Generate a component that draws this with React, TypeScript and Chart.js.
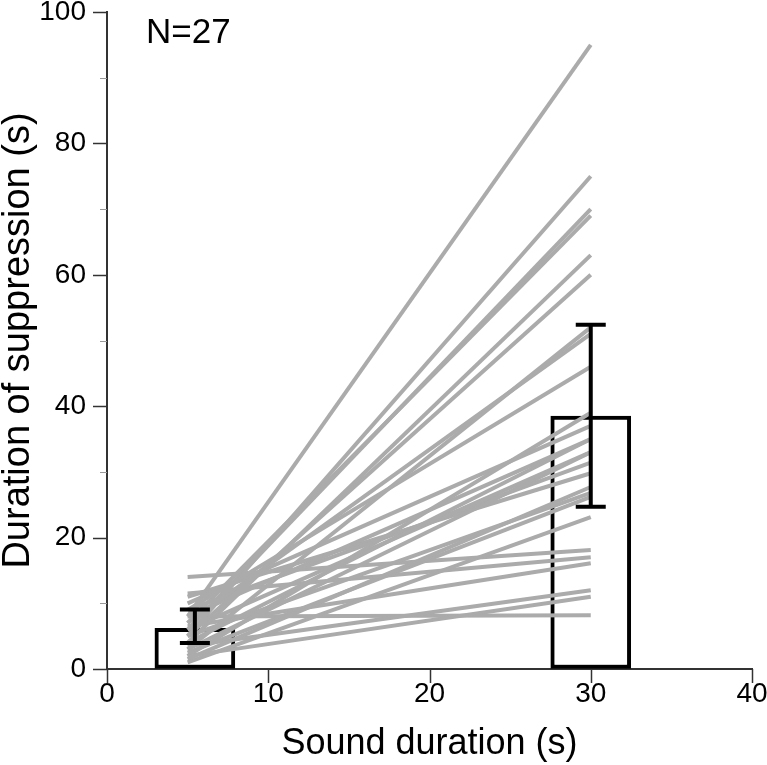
import React, { useEffect, useRef } from 'react';
import { Chart, registerables } from 'chart.js';

Chart.register(...registerables);

// ---- data ----
const SOUND_DURATIONS = [5, 30];
// suppression duration (s) for each of the 27 subjects at 5 s and 30 s
const SUPPRESSION_5S = [8, 5, 6, 7, 4, 5, 3, 7, 9, 2, 10, 4, 8, 6, 3, 9, 11, 1.5, 5, 2.5, 1, 14, 11.5, 6.5, 3.5, 2, 8];
const SUPPRESSION_30S = [95, 75, 70, 69, 63, 60, 52, 51, 46, 39, 37, 35, 35, 33, 33, 31.4, 29.8, 27.7, 26.8, 26.2, 23.1, 18.1, 17, 16.1, 12, 11, 8.2];
const BAR_X = [5.45, 30];
const BAR_MEAN = [6.2, 38.5];
const ERR_LOW = [3.96, 24.7];
const ERR_HIGH = [9.06, 52.4];
const X_TICKS = [0, 10, 20, 30, 40];
const Y_TICKS = [0, 20, 40, 60, 80, 100];
const Y_MINOR = [10, 30, 50, 70, 90];
const N_LABEL = 'N=27';
const X_TITLE = 'Sound duration (s)';
const Y_TITLE = 'Duration of suppression (s)';

const FONT = '"Liberation Sans", Arial, Helvetica, sans-serif';
const CAP_HALF = 0.93;

export default function App() {
  const ref = useRef<HTMLCanvasElement>(null);

  useEffect(() => {
    if (!ref.current) return;

    const subjectSets = SUPPRESSION_5S.map((s, i) => ({
      type: 'line' as const,
      data: [
        { x: SOUND_DURATIONS[0], y: s },
        { x: SOUND_DURATIONS[1], y: SUPPRESSION_30S[i] },
      ],
      borderColor: '#ababab',
      borderWidth: 4,
      borderCapStyle: 'butt',
      pointRadius: 0,
      fill: false,
      order: 1,
    }));

    const errSets = BAR_X.map((x, i) => ({
      type: 'line' as const,
      data: [
        { x, y: ERR_LOW[i] },
        { x, y: ERR_HIGH[i] },
        { x, y: null },
        { x: x - CAP_HALF, y: ERR_HIGH[i] },
        { x: x + CAP_HALF, y: ERR_HIGH[i] },
        { x, y: null },
        { x: x - CAP_HALF, y: ERR_LOW[i] },
        { x: x + CAP_HALF, y: ERR_LOW[i] },
      ],
      borderColor: '#000',
      borderWidth: 4,
      borderCapStyle: 'butt',
      pointRadius: 0,
      spanGaps: false,
      fill: false,
      order: 0,
    }));

    const barSet = {
      type: 'bar' as const,
      data: BAR_X.map((x, i) => ({ x, y: BAR_MEAN[i] })),
      backgroundColor: '#ffffff',
      borderColor: '#000',
      borderWidth: 4,
      borderSkipped: false,
      barThickness: 80,
      order: 2,
    };

    const tickPlugin = {
      id: 'customTicks',
      afterDraw(chart: any) {
        const { ctx } = chart;
        const xs = chart.scales.x;
        const ys = chart.scales.y;
        const ax = chart.chartArea.left;
        const ay = chart.chartArea.bottom;
        ctx.save();
        ctx.lineWidth = 1.5;
        ctx.strokeStyle = '#333';
        Y_TICKS.forEach((v) => {
          const py = Math.round(ys.getPixelForValue(v)) + 0.5;
          ctx.beginPath();
          ctx.moveTo(ax - 14, py);
          ctx.lineTo(ax, py);
          ctx.stroke();
        });
        X_TICKS.forEach((v) => {
          const px = Math.round(xs.getPixelForValue(v)) + 0.5;
          ctx.beginPath();
          ctx.moveTo(px, ay);
          ctx.lineTo(px, ay + 14);
          ctx.stroke();
        });
        ctx.strokeStyle = '#999';
        ctx.lineWidth = 1;
        Y_MINOR.forEach((v) => {
          const py = Math.round(ys.getPixelForValue(v)) + 0.5;
          ctx.beginPath();
          ctx.moveTo(ax - 7, py);
          ctx.lineTo(ax, py);
          ctx.stroke();
        });
        ctx.fillStyle = '#000';
        ctx.font = `35px ${FONT}`;
        ctx.textAlign = 'left';
        ctx.textBaseline = 'alphabetic';
        ctx.fillText(N_LABEL, 146, 43);
        ctx.restore();
      },
    };

    const chart = new Chart(ref.current, {
      type: 'line',
      data: { datasets: [...errSets, ...subjectSets, barSet] as any },
      options: {
        animation: false,
        responsive: false,
        devicePixelRatio: 1,
        events: [],
        layout: { padding: { top: 12, right: 15, left: 0, bottom: 0 } },
        plugins: { legend: { display: false }, tooltip: { enabled: false } },
        scales: {
          x: {
            type: 'linear',
            min: 0,
            max: 40,
            offset: false,
            afterFit(scale: any) {
              scale.height = 96;
              scale.paddingLeft = 0;
              scale.paddingRight = 0;
            },
            afterBuildTicks(scale: any) {
              scale.ticks = X_TICKS.map((v) => ({ value: v }));
            },
            grid: { display: true, drawOnChartArea: false, drawTicks: true, tickLength: 7, tickColor: 'rgba(0,0,0,0)' },
            border: { display: true, color: '#333', width: 2 },
            ticks: {
              color: '#000',
              font: { family: FONT, size: 28, lineHeight: 1.0 },
              padding: 4,
              maxRotation: 0,
              autoSkip: false,
            },
            title: {
              display: true,
              text: X_TITLE,
              color: '#000',
              font: { family: FONT, size: 36, lineHeight: 1.0 },
              padding: { top: 0, bottom: 3 },
            },
          },
          y: {
            type: 'linear',
            min: 0,
            max: 100,
            afterFit(scale: any) {
              scale.width = 107;
              scale.paddingTop = 0;
              scale.paddingBottom = 0;
            },
            afterBuildTicks(scale: any) {
              scale.ticks = Y_TICKS.map((v) => ({ value: v }));
            },
            grid: { display: true, drawOnChartArea: false, drawTicks: true, tickLength: 14, tickColor: 'rgba(0,0,0,0)' },
            border: { display: true, color: '#333', width: 2 },
            ticks: {
              color: '#000',
              font: { family: FONT, size: 28, lineHeight: 1.0 },
              padding: 7,
              autoSkip: false,
            },
            title: {
              display: true,
              text: Y_TITLE,
              color: '#000',
              font: { family: FONT, size: 38, lineHeight: 1.0 },
              padding: { top: 0, bottom: 0 },
            },
          },
        },
      },
      plugins: [tickPlugin],
    } as any);

    return () => chart.destroy();
  }, []);

  return (
    <div style={{ position: 'absolute', left: 0, top: 0, width: 767, height: 765, background: '#fff' }}>
      <canvas ref={ref} width={767} height={765} style={{ display: 'block' }} />
    </div>
  );
}
